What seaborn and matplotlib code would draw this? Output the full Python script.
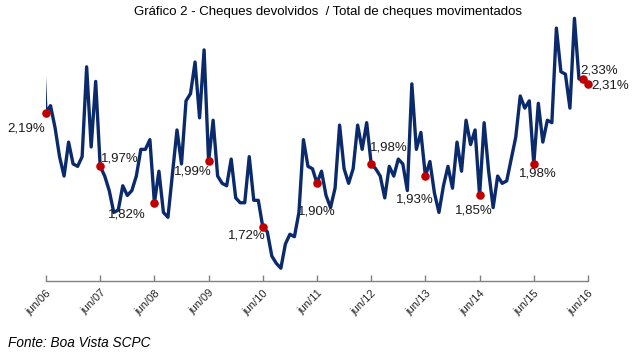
import matplotlib
matplotlib.use("Agg")
import matplotlib.pyplot as plt
import seaborn as sns
import pandas as pd
import numpy as np

# monthly index: -1 = mai/06 (clipped), 0 = jun/06 ... 120 = jun/16
month_index = list(range(-1, 121))
values = [2.60,
    2.19, 2.22, 2.13, 2.01, 1.93, 2.07, 1.98, 1.97, 2.01, 2.38, 2.05, 2.32,
    1.97, 1.93, 1.87, 1.78, 1.79, 1.89, 1.85, 1.87, 1.93, 2.04, 2.04, 2.08,
    1.82, 1.95, 1.78, 1.76, 1.94, 2.12, 1.98, 2.24, 2.27, 2.40, 2.17, 2.45,
    1.99, 2.16, 1.93, 1.90, 1.89, 2.00, 1.84, 1.82, 1.82, 2.01, 1.83, 1.83,
    1.72, 1.70, 1.60, 1.57, 1.55, 1.65, 1.69, 1.68, 1.78, 2.08, 1.97, 1.96,
    1.90, 1.95, 1.85, 1.80, 1.88, 2.14, 1.96, 1.90, 1.96, 2.14, 2.04, 2.15,
    1.98, 1.96, 1.93, 1.84, 1.97, 1.93, 2.00, 1.98, 1.87, 2.31, 2.04, 2.11,
    1.93, 1.99, 1.86, 1.78, 1.89, 1.97, 1.88, 2.07, 1.95, 2.16, 2.06, 2.12,
    1.85, 2.15, 1.95, 1.80, 1.93, 1.90, 1.91, 2.00, 2.09, 2.26, 2.21, 2.24,
    1.98, 2.23, 2.07, 2.16, 2.15, 2.54, 2.36, 2.35, 2.21, 2.58, 2.33, 2.33,
    2.31]

tick_positions = [0, 12, 24, 36, 48, 60, 72, 84, 96, 108, 120]
tick_labels = ["jun/06", "jun/07", "jun/08", "jun/09", "jun/10", "jun/11",
               "jun/12", "jun/13", "jun/14", "jun/15", "jun/16"]

highlight_index = [0, 12, 24, 36, 48, 60, 72, 84, 96, 108, 119, 120]
highlight_labels = ["2,19%", "1,97%", "1,82%", "1,99%", "1,72%", "1,90%",
                    "1,98%", "1,93%", "1,85%", "1,98%", "2,33%", "2,31%"]
label_offsets = [(-20, -16), (20, 8), (-28, -12), (-16, -10), (-16, -9), (0, -28),
                 (18, 16), (-11, -23), (-6, -15), (4, -10), (16, 9), (22, -2)]

sns.set_theme(style="white")
plt.rcParams["font.family"] = ["Liberation Sans", "DejaVu Sans"]

W, H = 639, 360
fig = plt.figure(figsize=(W / 100, H / 100), dpi=100)
left_px, right_px, top_px, bottom_px = 46, 588, 15, 281
ax = fig.add_axes([left_px / W, 1 - bottom_px / H, (right_px - left_px) / W, (bottom_px - top_px) / H])

df = pd.DataFrame({"m": month_index, "v": values})
sns.lineplot(data=df, x="m", y="v", ax=ax, color="#0B2A6B", linewidth=2.4)

vmap = dict(zip(month_index, values))
hx = highlight_index
hy = [vmap[i] for i in hx]
ax.scatter(hx, hy, s=38, color="#C00000", zorder=5, clip_on=False, linewidths=0)
for x, y, lab, (dx, dy) in zip(hx, hy, highlight_labels, label_offsets):
    ax.annotate(lab, (x, y), xytext=(dx, dy), textcoords="offset pixels",
                ha="center", va="center", fontsize=9.5, color="#1a1a1a",
                annotation_clip=False)

ax.set_xlim(0, 120)
v_at = lambda y: 1.72 + (227 - y) / 242.6
ax.set_ylim(v_at(bottom_px), v_at(top_px))

ax.set_xticks(tick_positions)
ax.set_xticklabels(tick_labels, rotation=45, ha="right", rotation_mode="anchor", fontsize=8)
ax.tick_params(axis="x", direction="in", length=4, color="#808080", width=1, pad=5, bottom=True)
ax.set_yticks([])
ax.set_xlabel("")
ax.set_ylabel("")
for s in ["left", "right", "top"]:
    ax.spines[s].set_visible(False)
ax.spines["bottom"].set_color("#808080")
ax.spines["bottom"].set_linewidth(1)
ax.set_facecolor("none")

fig.text(328 / W, 1 - 12 / H, "Gráfico 2 - Cheques devolvidos  / Total de cheques movimentados",
         ha="center", va="center", fontsize=9.5, color="#000000")
fig.text(8 / W, 1 - 343 / H, "Fonte: Boa Vista SCPC", ha="left", va="center",
         fontsize=9.8, style="italic", color="#000000")

fig.savefig("out.png", dpi=100)
